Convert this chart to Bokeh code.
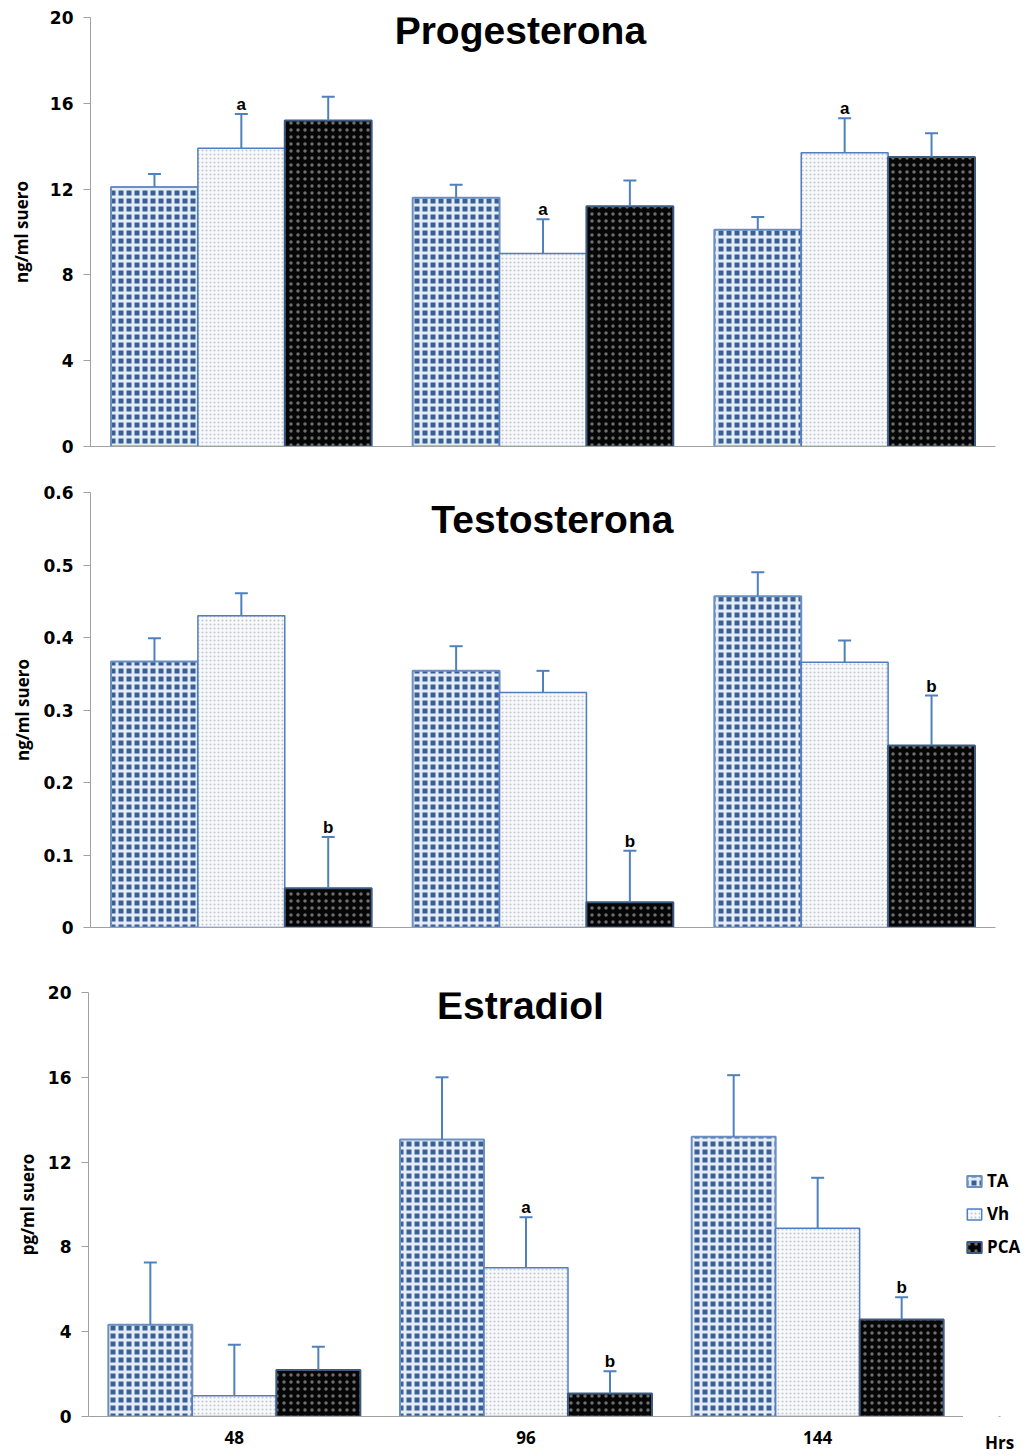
from bokeh.plotting import figure
from bokeh.models import (FactorRange, Range1d, FixedTicker, Label, Legend, LegendItem,
                          ColumnDataSource)
from bokeh.transform import dodge
from bokeh.layouts import column, row
from bokeh.embed import file_html
from bokeh.resources import INLINE
from bokeh.core.properties import value

# ---------------- data ----------------
hrs = ["48", "96", "144"]
hrs_unit = "Hrs"
series = ["TA", "Vh", "PCA"]

prog_TA = [12.1, 11.6, 10.1]
prog_Vh = [13.9, 9.0, 13.7]
prog_PCA = [15.2, 11.2, 13.5]
prog_TA_se = [0.6, 0.6, 0.6]
prog_Vh_se = [1.6, 1.6, 1.6]
prog_PCA_se = [1.1, 1.2, 1.1]
prog_TA_sig = ["", "", ""]
prog_Vh_sig = ["a", "a", "a"]
prog_PCA_sig = ["", "", ""]
prog_ticks = [0, 4, 8, 12, 16, 20]

test_TA = [0.367, 0.354, 0.457]
test_Vh = [0.430, 0.324, 0.366]
test_PCA = [0.054, 0.035, 0.251]
test_TA_se = [0.032, 0.034, 0.033]
test_Vh_se = [0.031, 0.030, 0.030]
test_PCA_se = [0.071, 0.071, 0.069]
test_TA_sig = ["", "", ""]
test_Vh_sig = ["", "", ""]
test_PCA_sig = ["b", "b", "b"]
test_ticks = [0, 0.1, 0.2, 0.3, 0.4, 0.5, 0.6]

estr_TA = [4.33, 13.07, 13.2]
estr_Vh = [0.98, 7.02, 8.88]
estr_PCA = [2.19, 1.08, 4.57]
estr_TA_se = [2.93, 2.93, 2.9]
estr_Vh_se = [2.4, 2.38, 2.38]
estr_PCA_se = [1.1, 1.05, 1.05]
estr_TA_sig = ["", "", ""]
estr_Vh_sig = ["", "a", ""]
estr_PCA_sig = ["", "b", "b"]
estr_ticks = [0, 4, 8, 12, 16, 20]

# ---------------- styles ----------------
STYLE = {
    "TA": dict(fill_color="#3a5f94", hatch_pattern="cross", hatch_color="#e4ecf7",
               hatch_weight=3, hatch_scale=8, line_color="#6b8fc0", line_width=2),
    "Vh": dict(fill_color="#f8f9fb", hatch_pattern="dot", hatch_color="#c2c7cf",
               hatch_weight=1, hatch_scale=4, line_color="#4f7fbf", line_width=1.5),
    "PCA": dict(fill_color="#060606", hatch_pattern="dot", hatch_color="#6e6e6e",
                hatch_weight=1, hatch_scale=7, line_color="#3e5a80", line_width=2),
}
OFFSETS = {"TA": -0.288, "Vh": 0.0, "PCA": 0.288}
ERR_COLOR = "#4f81bd"
AXIS_COLOR = "#a0a0a0"
XLABEL_STANDOFF = 14


def style_bottom_labels(xa):
    xa.axis_line_color = AXIS_COLOR
    xa.major_tick_line_color = None
    xa.major_tick_out = 0
    xa.major_tick_in = 0
    xa.major_label_text_font = "Open Sans"
    xa.major_label_text_font_style = "bold"
    xa.major_label_text_font_size = "17px"
    xa.major_label_text_color = "black"
    xa.major_label_standoff = XLABEL_STANDOFF


def panel(vals, ses, sigs, ticks, ymax, ylabel, title, title_xy, width, height,
          border_left, border_top, border_bottom, border_right, ylabel_standoff,
          last=False):
    data = {"hrs": hrs}
    for s in series:
        data[s] = vals[s]
        data[s + "_hi"] = [v + e for v, e in zip(vals[s], ses[s])]
        data[s + "_sig"] = sigs[s]
    src = ColumnDataSource(data)

    p = figure(x_range=FactorRange(*hrs, range_padding=0), y_range=Range1d(0, ymax),
               width=width, height=height, output_backend="svg", toolbar_location=None,
               min_border_left=border_left, min_border_right=border_right,
               min_border_top=border_top, min_border_bottom=border_bottom)
    p.outline_line_color = None
    p.xgrid.visible = False
    p.ygrid.visible = False

    for s in series:
        xs = dodge("hrs", OFFSETS[s], range=p.x_range)
        p.vbar(x=xs, top=s, width=0.288, bottom=0, source=src, **STYLE[s])
    for s in series:
        xs = dodge("hrs", OFFSETS[s], range=p.x_range)
        p.segment(x0=xs, y0=s, x1=xs, y1=s + "_hi", source=src,
                  line_color=ERR_COLOR, line_width=2)
        p.scatter(x=xs, y=s + "_hi", marker="dash", size=13, source=src,
                  line_color=ERR_COLOR, line_width=2)
        p.text(x=xs, y=s + "_hi", text=s + "_sig", source=src, text_align="center",
               text_baseline="bottom",
               text_font=value("Liberation Sans"), text_font_style="bold",
               text_font_size="17px", text_color="black")

    # y axis
    ax = p.yaxis[0]
    ax.ticker = FixedTicker(ticks=ticks)
    ax.major_label_text_font = "DejaVu Sans"
    ax.major_label_text_font_style = "bold"
    ax.major_label_text_font_size = "17px"
    ax.major_label_text_color = "black"
    ax.major_label_standoff = 10
    ax.axis_line_color = AXIS_COLOR
    ax.major_tick_line_color = AXIS_COLOR
    ax.major_tick_out = 7
    ax.major_tick_in = 0
    ax.minor_tick_line_color = None
    ax.axis_label = ylabel
    ax.axis_label_text_font = "Open Sans"
    ax.axis_label_text_font_style = "bold"
    ax.axis_label_text_font_size = "17px"
    ax.axis_label_text_color = "black"
    ax.axis_label_standoff = ylabel_standoff

    # x axis
    xa = p.xaxis[0]
    if last:
        style_bottom_labels(xa)
    else:
        xa.axis_line_color = AXIS_COLOR
        xa.major_tick_line_color = None
        xa.major_label_text_color = None
        xa.major_label_text_font_size = "1px"
        xa.major_label_standoff = 0

    p.add_layout(Label(x=title_xy[0], y=title_xy[1], text=title, text_align="center",
                       text_baseline="middle", text_font="Liberation Sans",
                       text_font_style="bold", text_font_size="39px", text_color="black"))
    return p


p1 = panel({"TA": prog_TA, "Vh": prog_Vh, "PCA": prog_PCA},
           {"TA": prog_TA_se, "Vh": prog_Vh_se, "PCA": prog_PCA_se},
           {"TA": prog_TA_sig, "Vh": prog_Vh_sig, "PCA": prog_PCA_sig},
           prog_ticks, 20, "ng/ml suero", "Progesterona", (1.425, 19.39),
           1035, 470, 90, 17, 24, 40, 14)
p2 = panel({"TA": test_TA, "Vh": test_Vh, "PCA": test_PCA},
           {"TA": test_TA_se, "Vh": test_Vh_se, "PCA": test_PCA_se},
           {"TA": test_TA_sig, "Vh": test_Vh_sig, "PCA": test_PCA_sig},
           test_ticks, 0.6, "ng/ml suero", "Testosterona", (1.531, 0.5628),
           1035, 481, 90, 22, 24, 40, 6)
p3 = panel({"TA": estr_TA, "Vh": estr_Vh, "PCA": estr_PCA},
           {"TA": estr_TA_se, "Vh": estr_Vh_se, "PCA": estr_PCA_se},
           {"TA": estr_TA_sig, "Vh": estr_Vh_sig, "PCA": estr_PCA_sig},
           estr_ticks, 20, "pg/ml suero", "Estradiol", (1.481, 19.4),
           963, 505, 88, 41, 34, 0, 6, last=True)

# legend strip (with the "Hrs" unit label) to the right of the last panel
lf = figure(width=72, height=505, output_backend="svg", toolbar_location=None,
            y_axis_location=None,
            x_range=FactorRange(hrs_unit, range_padding=0), y_range=Range1d(0, 1),
            min_border_left=0, min_border_right=0, min_border_top=41, min_border_bottom=34)
lf.outline_line_color = None
lf.xgrid.visible = False
lf.ygrid.visible = False
style_bottom_labels(lf.xaxis[0])
lf.xaxis[0].axis_line_color = None

items = []
for s in series:
    # swatch carriers for the legend: zero-size, outside the visible y range
    r = lf.vbar(x=[hrs_unit], top=[-1], bottom=[-1], width=0, **STYLE[s])
    items.append(LegendItem(label=value(s), renderers=[r]))
legend = Legend(items=items, location=(2, 158), orientation="vertical",
                label_text_font="Open Sans", label_text_font_style="bold",
                label_text_font_size="17px", label_text_color="black",
                glyph_width=18, glyph_height=14, label_standoff=4, spacing=10,
                padding=0, margin=0, border_line_color=None, background_fill_alpha=0)
lf.add_layout(legend, "center")

layout = column(p1, p2, row(p3, lf, spacing=0), spacing=0)
open("out.html", "w").write(file_html(layout, INLINE))
